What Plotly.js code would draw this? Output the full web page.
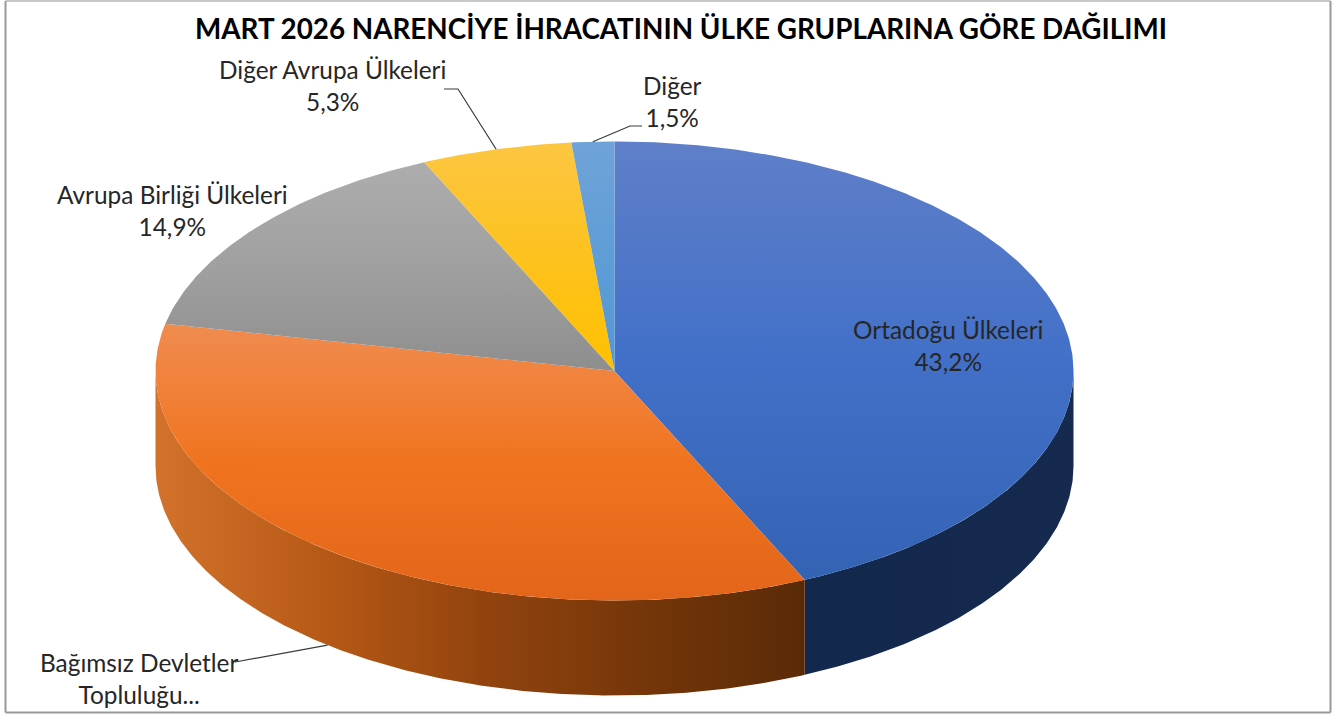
<!DOCTYPE html>
<html><head><meta charset="utf-8">
<script src="https://cdn.plot.ly/plotly-3.0.1.min.js"></script>
<style>html,body{margin:0;padding:0;background:#fff}#c{width:1344px;height:715px}</style></head>
<body><div id="c"></div>
<script>
const titleText = "MART 2026 NARENCİYE İHRACATININ ÜLKE GRUPLARINA GÖRE DAĞILIMI";
const categories = ["Ortadoğu Ülkeleri","Bağımsız Devletler Topluluğu","Avrupa Birliği Ülkeleri","Diğer Avrupa Ülkeleri","Diğer"];
const shares = [43.2,35.1,14.9,5.3,1.5];
const shownLabels = ["Ortadoğu Ülkeleri<br>43,2%","Bağımsız Devletler<br>Topluluğu...","Avrupa Birliği Ülkeleri<br>14,9%","Diğer Avrupa Ülkeleri<br>5,3%","Diğer<br>1,5%"];

// styling
const topGrad = [
  ["#5f7fc9","#4270c8","#3463b4"],
  ["#f08c50","#f0741f","#e2651a"],
  ["#adadad","#a0a0a0","#8e8e8e"],
  ["#fcc642","#fdc21e","#ffc000"],
  ["#6fa3d8","#5f9dd6","#5497d6"]
];
const sideGrad = [
  ["#13284d","#16294f"],
  ["#d2722c","#b85a17","#93440e","#753609","#5a2a08"]
];
const labelPos = [[948,345],[139,678],[172,210],[332,85],[672,101]];
const leaders = [null,[[235,662]],null,[[458,89],[444,89]],[[630,126],[642,126]]];
const cx=614.5, cy=371, rx=459, ry=229.5, depth=95;

const rad=d=>d*Math.PI/180;
const px=t=>cx+rx*Math.sin(rad(t));
const py=t=>cy-ry*Math.cos(rad(t));
const arc=(a,b)=>{const n=Math.max(2,Math.ceil(Math.abs(b-a)*2));return Array.from({length:n+1},(_,i)=>a+(b-a)*i/n);};
const scale=c=>c.map((k,i)=>[i/(c.length-1),k]);

let start=0; const spans=shares.map(v=>{const a=start;start+=v;return [a*3.6,start*3.6];});
const traces=[];
// side walls: only the part facing the viewer (90..270 degrees)
spans.forEach((s,i)=>{
  const a=Math.max(s[0],90),b=Math.min(s[1],270);
  if(b<=a) return;
  const ts=arc(a,b);
  const x=[...ts.map(px),...ts.slice().reverse().map(px)];
  const y=[...ts.map(t=>py(t)),...ts.slice().reverse().map(t=>py(t)+depth)];
  x.push(x[0]);y.push(y[0]);
  traces.push({type:'scatter',mode:'lines',x,y,fill:'toself',line:{width:0},hoverinfo:'skip',showlegend:false,
    fillgradient:{type:'horizontal',colorscale:scale(sideGrad[i]),start:Math.min(...x),stop:Math.max(...x)}});
});
// top face
spans.forEach((s,i)=>{
  const ts=arc(s[0],s[1]);
  const x=[cx,...ts.map(px),cx], y=[cy,...ts.map(py),cy];
  traces.push({type:'scatter',mode:'lines',x,y,fill:'toself',line:{width:0},name:categories[i],
    hoverinfo:'text',text:categories[i]+': '+shares[i]+'%',showlegend:false,
    fillgradient:{type:'vertical',colorscale:scale(topGrad[i]),start:Math.min(...y),stop:Math.max(...y)}});
});
// leader lines start at each slice's outer-edge midpoint
spans.forEach((s,i)=>{
  if(!leaders[i]) return;
  const m=(s[0]+s[1])/2;
  const front=m>90&&m<270;
  const x=[px(m),...leaders[i].map(p=>p[0])];
  const y=[py(m)+(front?depth:0),...leaders[i].map(p=>p[1])];
  traces.push({type:'scatter',mode:'lines',x,y,line:{color:'#3a3a3a',width:1.2},hoverinfo:'skip',showlegend:false});
});

const annotations=shownLabels.map((t,i)=>({xref:'x',yref:'y',x:labelPos[i][0],y:labelPos[i][1],text:t,showarrow:false,
  align:'center',xanchor:'center',yanchor:'middle',font:{family:'Lato, Carlito, sans-serif',size:24.4,color:'#262626'}}));

const edge=(x0,y0,x1,y1,c)=>({type:'line',xref:'x',yref:'y',x0,y0,x1,y1,line:{color:c,width:2}});
const layout={
  width:1344,height:715,margin:{l:0,r:0,t:0,b:0},paper_bgcolor:'#fff',plot_bgcolor:'#fff',showlegend:false,
  xaxis:{range:[0,1344],visible:false,fixedrange:true},
  yaxis:{range:[715,0],visible:false,fixedrange:true},
  title:{text:titleText,font:{family:'Lato, Carlito, sans-serif',size:27.8,color:'#000',weight:700},
    xref:'paper',yref:'paper',x:681/1344,y:1-29/715,xanchor:'center',yanchor:'middle'},
  annotations,
  shapes:[edge(5.5,1,1330.5,1,'#c8c8c8'),edge(5.5,1,5.5,712.5,'#9a9a9a'),edge(5.5,712.5,1330.5,712.5,'#9a9a9a'),edge(1330.5,1,1330.5,712.5,'#9a9a9a')]
};
Plotly.newPlot('c',traces,layout,{displayModeBar:false});
</script></body></html>
